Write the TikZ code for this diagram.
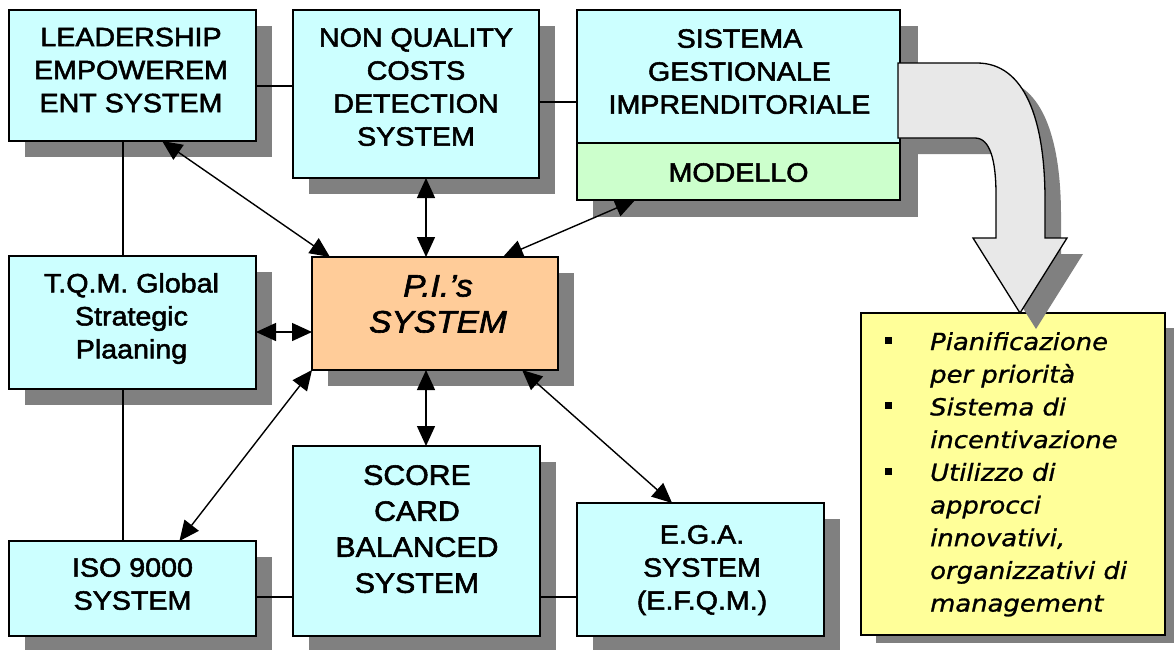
\documentclass[tikz,border=0pt]{standalone}
\usepackage{fontspec}
\setmainfont[FakeStretch=1.08,FakeBold=2]{Liberation Sans}
\newfontfamily\yelfont[FakeStretch=1.1,FakeBold=1]{DejaVu Sans}
\usetikzlibrary{arrows.meta,calc,shadows}
\definecolor{cyanbox}{RGB}{204,255,255}
\definecolor{greenbox}{RGB}{204,255,204}
\definecolor{orangebox}{RGB}{255,204,153}
\definecolor{yellowbox}{RGB}{255,255,153}
\definecolor{shgray}{RGB}{128,128,128}
\definecolor{arrgray}{RGB}{232,232,232}
\begin{document}
\begin{tikzpicture}[x=1pt,y=-1pt,
  box/.style={draw=black, line width=1.2pt, inner sep=0pt, outer sep=0pt},
  shadowed/.style={drop shadow={shadow xshift=16pt, shadow yshift=-16pt, fill=shgray, opacity=1}},
  lbl/.style={inner sep=0pt, anchor=north, align=center, font=\fontsize{26.5}{33}\selectfont},
  conn/.style={line width=1.2pt},
  arr/.style={line width=1.4pt, {Triangle[length=20pt,width=18pt]}-{Triangle[length=20pt,width=18pt]}}
]
\useasboundingbox (0,0) rectangle (1174,649);

% shadow of the two-part box
\fill[shgray] (593,26) rectangle (918,217);

% boxes
\node[box, shadowed, fill=cyanbox, minimum width=247pt, minimum height=131pt] (lead) at (132.5,75.5) {};
\node[box, shadowed, fill=cyanbox, minimum width=246pt, minimum height=168pt] (nqc) at (416,94) {};
\node[box, fill=cyanbox, minimum width=323pt, minimum height=133pt] (sis) at (738.5,76.5) {};
\node[box, fill=greenbox, minimum width=323pt, minimum height=57pt] (mod) at (738.5,171.5) {};
\node[box, shadowed, fill=cyanbox, minimum width=247pt, minimum height=133pt] (tqm) at (132.5,322.5) {};
\node[box, shadowed, fill=orangebox, minimum width=246pt, minimum height=113pt] (pi) at (435,313.5) {};
\node[box, shadowed, fill=cyanbox, minimum width=247pt, minimum height=95pt] (iso) at (132.5,588.5) {};
\node[box, shadowed, fill=cyanbox, minimum width=247pt, minimum height=190pt] (score) at (416.5,541) {};
\node[box, shadowed, fill=cyanbox, minimum width=247pt, minimum height=133pt] (ega) at (700.5,569.5) {};

% yellow box
\fill[shgray] (876,328) rectangle (1174,643);
\node[box, fill=yellowbox, minimum width=304pt, minimum height=322pt] (yel) at (1013,474) {};

% labels
\node[lbl] (leadT) at (131,27.5) {LEADERSHIP\\EMPOWEREM\\ENT SYSTEM};
\node[lbl] (nqcT) at (416,28) {NON QUALITY\\COSTS\\DETECTION\\SYSTEM};
\node[lbl] (sisT) at (739.5,29) {SISTEMA\\GESTIONALE\\IMPRENDITORIALE};
\node[lbl] (modT) at (738.5,163) {MODELLO};
\node[lbl] (tqmT) at (131.5,273) {T.Q.M. Global\\Strategic\\Plaaning};
\node[lbl, font=\itshape\fontsize{31}{36}\selectfont] (piT) at (438,275) {P.I.’s\\SYSTEM};
\node[lbl] (isoT) at (132.5,558) {ISO 9000\\SYSTEM};
\node[lbl, font=\fontsize{28}{36}\selectfont] (scoreT) at (417,465) {SCORE\\CARD\\BALANCED\\SYSTEM};
\node[lbl] (egaT) at (702,525) {E.G.A.\\SYSTEM\\(E.F.Q.M.)};

\node[inner sep=0pt, anchor=base west, font=\yelfont\itshape\fontsize{23.5}{32.7}\selectfont] (yelT) at (885,350)
 {\begin{tabular}[t]{@{}p{45pt}@{}l@{}}
  \raisebox{6pt}{\rule{7pt}{7pt}} & Pianificazione\\
   & per priorità\\
  \raisebox{6pt}{\rule{7pt}{7pt}} & Sistema di\\
   & incentivazione\\
  \raisebox{6pt}{\rule{7pt}{7pt}} & Utilizzo di\\
   & approcci\\
   & innovativi,\\
   & organizzativi di\\
   & management
 \end{tabular}};

% big curved arrow with shadow
\fill[shgray, shift={(16,16)}] (898,63) -- (977,63) .. controls (1025,63) and (1045,120) .. (1045,200) -- (1045,238)
  -- (1067,238) -- (1020,313) -- (973,238) -- (996,238) -- (996,195)
  .. controls (996,160) and (990,138) .. (975,138) -- (898,138) -- cycle;
\draw[line width=1.3pt, fill=arrgray, line join=miter] (898,63) -- (977,63) .. controls (1025,63) and (1045,120) .. (1045,200) -- (1045,238)
  -- (1067,238) -- (1020,313) -- (973,238) -- (996,238) -- (996,195)
  .. controls (996,160) and (990,138) .. (975,138) -- (898,138) -- cycle;

% plain connectors
\draw[conn] ([yshift=-10.5pt]lead.east) -- ([yshift=-10.5pt]lead.east -| nqc.west);
\draw[conn] ([yshift=-8pt]nqc.east) -- ([yshift=-8pt]nqc.east -| sis.west);
\draw[conn] ([xshift=-9.5pt]lead.south) -- ([xshift=-9.5pt]lead.south |- tqm.north);
\draw[conn] ([xshift=-9.5pt]tqm.south) -- ([xshift=-9.5pt]tqm.south |- iso.north);
\draw[conn] ([yshift=-8.5pt]iso.east) -- ([yshift=-8.5pt]iso.east -| score.west);
\draw[conn] ([yshift=-56pt]score.east) -- ([yshift=-56pt]score.east -| ega.west);

% double arrows
\draw[arr] ($(lead.south west)!0.62!(lead.south east)$) -- ($(pi.north west)!0.073!(pi.north east)$);
\draw[arr] ([xshift=10pt]nqc.south) -- ([xshift=-9pt]pi.north);
\draw[arr] ($(mod.south west)!0.18!(mod.south east)$) -- ($(pi.north west)!0.776!(pi.north east)$);
\draw[arr] ([yshift=-9.5pt]tqm.east) -- ([yshift=-18.5pt]pi.west);
\draw[arr] ([xshift=-9pt]pi.south) -- ([xshift=9.5pt]score.north);
\draw[arr] (pi.south west) -- ($(iso.north west)!0.69!(iso.north east)$);
\draw[arr] ($(pi.south west)!0.854!(pi.south east)$) -- ($(ega.north west)!0.385!(ega.north east)$);
\end{tikzpicture}
\end{document}
